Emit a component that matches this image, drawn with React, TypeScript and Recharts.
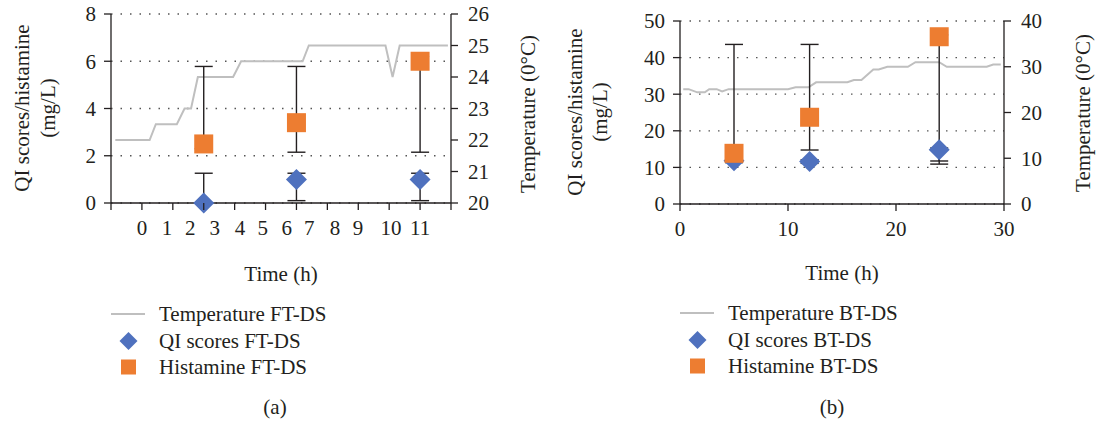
import React from 'react'
import {
  ComposedChart,
  Line,
  Scatter,
  XAxis,
  YAxis,
  CartesianGrid,
  ErrorBar,
  Legend,
} from 'recharts'

const FONT = "'Liberation Serif', 'DejaVu Serif', serif"
const FS = 21
const INK = '#231f20'
const GREY = '#bfbfbf'
const BLUE = '#4f71be'
const ORANGE = '#ed7d31'

// (a) FT-DS. x is the position along the axis, counted in tick intervals
const ftTempX = [0.14, 1.25, 1.45, 2.13, 2.38, 2.59, 2.81, 3.95, 4.21, 6.2, 6.4, 8.88, 9.11, 9.34, 10.9]
const ftTemp = [22, 22, 22.5, 22.5, 23, 23, 24, 24, 24.5, 24.5, 25, 25, 24, 25, 25]
const ftSampleX = [3, 6, 10]
const ftQi = [0, 1, 1]
const ftQiErr = [[0, 1.26], [0.9, 0.26], [0.9, 0.26]]
const ftHist = [2.5, 3.4, 6.0]
const ftHistErr = [[0.2, 3.28], [1.25, 2.38], [3.85, 0.2]]
const ftTickX = [0, 1, 2, 3, 4, 5, 6, 7, 8, 9, 10, 11]
const ftLabelX = [1.0, 1.81, 2.56, 3.36, 4.17, 4.91, 5.69, 6.41, 7.25, 7.99, 9.06, 10.0]
const ftLabels = ['0', '1', '2', '3', '4', '5', '6', '7', '8', '9', '10', '11']
const ftLegend = ['Temperature FT-DS', 'QI scores FT-DS', 'Histamine FT-DS']

// (b) BT-DS, x in hours
const btTempX = [0.3, 0.8, 1.6, 2.3, 2.7, 3.4, 3.9, 4.5, 10.0, 10.7, 11.9, 12.6, 15.5, 16.1, 16.8, 17.9, 18.4, 19.2, 21.1, 21.8, 24.0, 24.7, 28.4, 29.0, 29.7]
const btTemp = [25.1, 25.1, 24.4, 24.4, 25.1, 25.1, 24.6, 25.1, 25.1, 25.5, 25.5, 26.6, 26.6, 27.1, 27.1, 29.4, 29.4, 30, 30, 31, 31, 30, 30, 30.5, 30.5]
const btSampleX = [5, 12, 24]
const btQi = [11.8, 11.6, 14.8]
const btQiErr = [[0.5, 0.5], [0.5, 0.5], [3.9, 0.5]]
const btHist = [13.85, 23.7, 45.7]
const btHistErr = [[1, 29.75], [8.95, 19.9], [33.95, 0.5]]
const btTickX = [0, 10, 20, 30]
const btLabels = ['0', '10', '20', '30']
const btLegend = ['Temperature BT-DS', 'QI scores BT-DS', 'Histamine BT-DS']

type Row = { x: number, y: number, err?: number[] }

const rows = (xs: number[], ys: number[], errs?: number[][]): Row[] =>
  xs.map((x, i) => ({ x, y: ys[i], err: errs ? errs[i] : undefined }))

const NoMark = () => <g />

const DiamondMark = (props: any) => {
  const { cx, cy } = props
  const h = 10.5
  return <polygon points={`${cx},${cy - h} ${cx + h},${cy} ${cx},${cy + h} ${cx - h},${cy}`} fill={BLUE} />
}

const SquareMark = (props: any) => {
  const { cx, cy } = props
  return <rect x={cx - 9.5} y={cy - 9.5} width={19} height={19} fill={ORANGE} />
}

// tick mark for the bottom axis, drawn upward from where recharts puts the tick label
const TickMark = (props: any) => (
  <line x1={props.x} x2={props.x} y1={props.y - 7} y2={props.y} stroke={INK} strokeWidth={1.3} />
)

function LegendBox({ names }: { names: string[] }) {
  return (
    <div style={{ fontFamily: FONT, fontSize: FS, color: INK }}>
      {names.map((n, i) => (
        <div key={n} style={{ display: 'flex', alignItems: 'center', height: 26.5, whiteSpace: 'nowrap' }}>
          <svg width={48} height={26} style={{ flex: 'none' }}>
            {i === 0 && <line x1={0} x2={34} y1={13} y2={13} stroke={GREY} strokeWidth={2} />}
            {i === 1 && <polygon points="17.5,4 26.5,13 17.5,22 8.5,13" fill={BLUE} />}
            {i === 2 && <rect x={10} y={5.5} width={15} height={15} fill={ORANGE} />}
          </svg>
          <span style={{ lineHeight: '26px' }}>{n}</span>
        </div>
      ))}
    </div>
  )
}

function VTitle({ lines, xs, cy }: { lines: string[], xs: number[], cy: number }) {
  return (
    <g>
      {lines.map((l, i) => (
        <text
          key={l}
          x={xs[i]}
          y={cy}
          transform={`rotate(-90, ${xs[i]}, ${cy})`}
          textAnchor="middle"
          dominantBaseline="central"
          fontFamily={FONT}
          fontSize={FS}
          fill={INK}
        >
          {l}
        </text>
      ))}
    </g>
  )
}

interface PanelProps {
  width: number
  margin: { top: number, right: number, bottom: number, left: number }
  leftWidth: number
  rightWidth: number
  xDomain: [number, number]
  tickX: number[]
  labelX: number[]
  labels: string[]
  leftDomain: [number, number]
  leftTicks: number[]
  rightDomain: [number, number]
  rightTicks: number[]
  tempX: number[]
  temp: number[]
  sampleX: number[]
  qi: number[]
  qiErr: number[][]
  hist: number[]
  histErr: number[][]
  legend: string[]
  legendPos: { left: number, top: number }
  leftTitleX: number[]
  leftTitleY: number
  rightTitleX: number
  rightTitleY: number
  timeX: number
  timeY: number
}

function Panel(p: PanelProps) {
  const temp = rows(p.tempX, p.temp)
  const qi = rows(p.sampleX, p.qi, p.qiErr)
  const hist = rows(p.sampleX, p.hist, p.histErr)
  const axisLine = { stroke: INK, strokeWidth: 1.3 }
  const tickStyle = { fontFamily: FONT, fontSize: FS, fill: INK }

  return (
    <ComposedChart width={p.width} height={421} margin={p.margin}>
      <CartesianGrid
        xAxisId="a"
        yAxisId="l"
        vertical={false}
        stroke="#555"
        strokeWidth={1.3}
        strokeDasharray="1.5 8"
      />
      {/* axis "a" draws the line and tick marks */}
      <XAxis
        xAxisId="a"
        dataKey="x"
        type="number"
        domain={p.xDomain}
        ticks={p.tickX}
        interval={0}
        tick={TickMark}
        tickSize={7}
        tickMargin={0}
        height={8}
        axisLine={axisLine}
        tickLine={false}
        allowDataOverflow
      />
      {/* axis "b" carries only the tick labels, which sit off the tick marks */}
      <XAxis
        xAxisId="b"
        dataKey="x"
        type="number"
        domain={p.xDomain}
        ticks={p.labelX}
        interval={0}
        tickFormatter={(v: number) => p.labels[p.labelX.indexOf(v)] ?? ''}
        axisLine={false}
        tickLine={false}
        tickSize={0}
        tickMargin={9}
        height={72}
        tick={tickStyle}
        allowDataOverflow
        label={{ content: () => (
          <text x={p.timeX} y={p.timeY} textAnchor="middle" dominantBaseline="central" fontFamily={FONT} fontSize={FS} fill={INK}>
            Time (h)
          </text>
        ) }}
      />
      <YAxis
        yAxisId="l"
        type="number"
        domain={p.leftDomain}
        ticks={p.leftTicks}
        interval={0}
        width={p.leftWidth}
        tickSize={7}
        tickMargin={8}
        axisLine={axisLine}
        tickLine={axisLine}
        tick={tickStyle}
        label={{ content: () => <VTitle lines={['QI scores/histamine', '(mg/L)']} xs={p.leftTitleX} cy={p.leftTitleY} /> }}
      />
      <YAxis
        yAxisId="r"
        orientation="right"
        type="number"
        domain={p.rightDomain}
        ticks={p.rightTicks}
        interval={0}
        width={p.rightWidth}
        tickSize={7}
        tickMargin={10}
        axisLine={axisLine}
        tickLine={axisLine}
        tick={tickStyle}
        label={{ content: () => <VTitle lines={['Temperature (0°C)']} xs={[p.rightTitleX]} cy={p.rightTitleY} /> }}
      />

      {/* temperature trace on the right axis */}
      <Line
        xAxisId="a"
        yAxisId="r"
        data={temp}
        dataKey="y"
        type="linear"
        stroke={GREY}
        strokeWidth={2}
        dot={false}
        isAnimationActive={false}
      />

      {/* error bars first, markers on top */}
      <Scatter xAxisId="b" yAxisId="l" data={hist} dataKey="y" shape={NoMark} isAnimationActive={false}>
        <ErrorBar dataKey="err" direction="y" width={9} stroke={INK} strokeWidth={1.4} isAnimationActive={false} />
      </Scatter>
      <Scatter xAxisId="b" yAxisId="l" data={qi} dataKey="y" shape={NoMark} isAnimationActive={false}>
        <ErrorBar dataKey="err" direction="y" width={9} stroke={INK} strokeWidth={1.4} isAnimationActive={false} />
      </Scatter>
      <Scatter xAxisId="a" yAxisId="l" data={qi} dataKey="y" shape={DiamondMark} isAnimationActive={false} />
      <Scatter xAxisId="a" yAxisId="l" data={hist} dataKey="y" shape={SquareMark} isAnimationActive={false} />

      <Legend
        layout="vertical"
        verticalAlign="middle"
        align="center"
        wrapperStyle={{ left: p.legendPos.left, top: p.legendPos.top, width: 'auto' }}
        content={() => <LegendBox names={p.legend} />}
      />
    </ComposedChart>
  )
}

function Caption({ text, cx }: { text: string, cx: number }) {
  return (
    <div
      style={{
        position: 'absolute',
        left: cx - 50,
        top: 395,
        width: 100,
        height: 24,
        lineHeight: '24px',
        textAlign: 'center',
        fontFamily: FONT,
        fontSize: FS,
        color: INK,
      }}
    >
      {text}
    </div>
  )
}

export default function App() {
  return (
    <div style={{ position: 'absolute', left: 0, top: 0, width: 1097, height: 421, background: '#fff' }}>
      <div style={{ position: 'absolute', left: 0, top: 0 }}>
        <Panel
          width={548}
          margin={{ top: 14, right: 0, bottom: 138, left: 0 }}
          leftWidth={111}
          rightWidth={97}
          xDomain={[0, 11]}
          tickX={ftTickX}
          labelX={ftLabelX}
          labels={ftLabels}
          leftDomain={[0, 8]}
          leftTicks={[0, 2, 4, 6, 8]}
          rightDomain={[20, 26]}
          rightTicks={[20, 21, 22, 23, 24, 25, 26]}
          tempX={ftTempX}
          temp={ftTemp}
          sampleX={ftSampleX}
          qi={ftQi}
          qiErr={ftQiErr}
          hist={ftHist}
          histErr={ftHistErr}
          legend={ftLegend}
          legendPos={{ left: 111, top: 301 }}
          leftTitleX={[22, 48]}
          leftTitleY={108}
          rightTitleX={528}
          rightTitleY={114}
          timeX={281}
          timeY={274}
        />
      </div>
      <div style={{ position: 'absolute', left: 548, top: 0 }}>
        <Panel
          width={549}
          margin={{ top: 21, right: 0, bottom: 137, left: 0 }}
          leftWidth={132}
          rightWidth={93}
          xDomain={[0, 30]}
          tickX={btTickX}
          labelX={btTickX}
          labels={btLabels}
          leftDomain={[0, 50]}
          leftTicks={[0, 10, 20, 30, 40, 50]}
          rightDomain={[0, 40]}
          rightTicks={[0, 10, 20, 30, 40]}
          tempX={btTempX}
          temp={btTemp}
          sampleX={btSampleX}
          qi={btQi}
          qiErr={btQiErr}
          hist={btHist}
          histErr={btHistErr}
          legend={btLegend}
          legendPos={{ left: 132, top: 300 }}
          leftTitleX={[27, 52]}
          leftTitleY={112}
          rightTitleX={535}
          rightTitleY={113}
          timeX={294}
          timeY={273}
        />
      </div>
      <Caption text="(a)" cx={275} />
      <Caption text="(b)" cx={832} />
    </div>
  )
}
